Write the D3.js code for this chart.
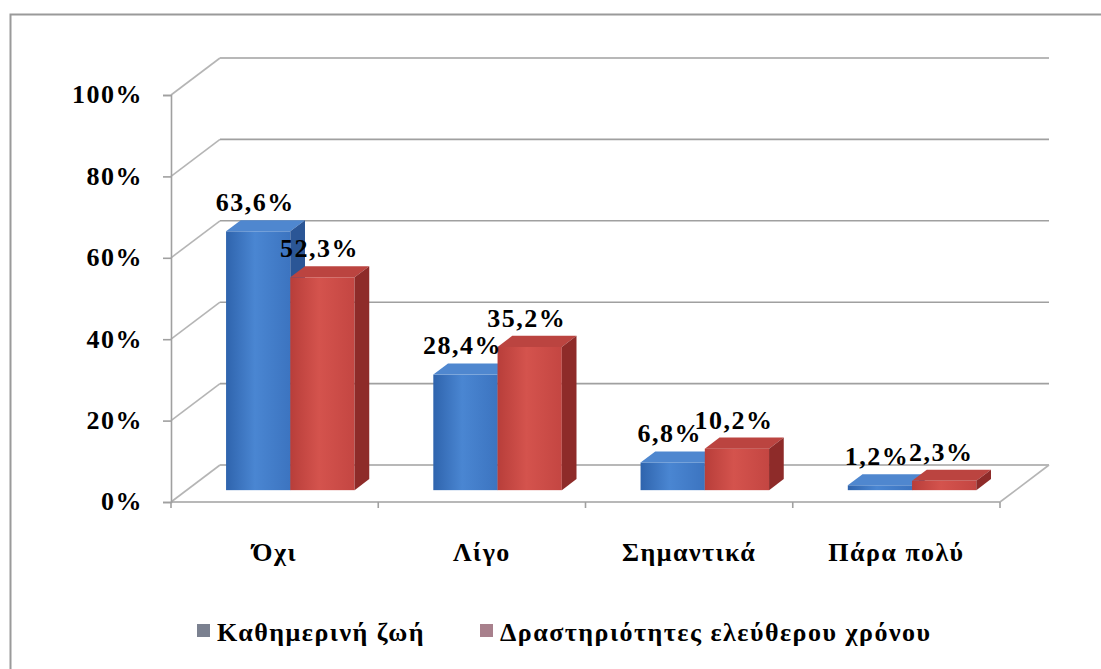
<!DOCTYPE html>
<html>
<head>
<meta charset="utf-8">
<script src="https://cdn.jsdelivr.net/npm/d3@7"></script>
<style>
  body { margin: 0; background: #fff; }
</style>
</head>
<body>
<div id="chart"></div>
<script>
// Data
const categories = ["Όχι", "Λίγο", "Σημαντικά", "Πάρα πολύ"];
const seriesNames = ["Καθημερινή ζωή", "Δραστηριότητες ελεύθερου χρόνου"];
const dailyLife = [63.6, 28.4, 6.8, 1.2];
const leisure = [52.3, 35.2, 10.2, 2.3];
const yTicks = [0, 20, 40, 60, 80, 100];

const values = [dailyLife, leisure];
const fmt = v => d3.format(".1f")(v).replace(".", ",") + "%";
const FONT = "'Liberation Serif', 'Times New Roman', Times, 'DejaVu Serif', serif";

const width = 1101, height = 669;

const svg = d3.select("#chart")
    .append("svg")
    .attr("width", width)
    .attr("height", height)
    .style("font-family", FONT)
    .style("font-weight", "bold")
    .style("letter-spacing", "1.5px");

// outer frame (runs off the right and bottom of the picture)
svg.append("rect")
    .attr("x", 10.5).attr("y", 14.5)
    .attr("width", 1200).attr("height", 800)
    .attr("fill", "none")
    .attr("stroke", "#9a9a9a")
    .attr("stroke-width", 2);

// Scales on the front plane of the 3D box
const x0 = d3.scaleBand()
    .domain(categories)
    .range([171, 1000])
    .paddingInner(0.38)
    .paddingOuter(0.19);
const x1 = d3.scaleBand()
    .domain([0, 1])
    .range([0, x0.bandwidth()]);
const y = d3.scaleLinear()
    .domain([0, 100])
    .range([502, 95]);

// depth of the floor, front edge -> back wall
const dep = {dx: 49, dy: -37};
const barFront = 0.32, barBack = 0.62;
const xLeft = x0.range()[0], xRight = x0.range()[1];

// Gradients
const defs = svg.append("defs");
function grad(id, stops) {
    const g = defs.append("linearGradient").attr("id", id)
        .attr("x1", "0%").attr("x2", "100%").attr("y1", "0%").attr("y2", "0%");
    stops.forEach(s => g.append("stop").attr("offset", s[0]).attr("stop-color", s[1]));
}
grad("blueFront", [["0%", "#2f64ad"], ["45%", "#4a86d2"], ["100%", "#3c74c0"]]);
grad("redFront", [["0%", "#b83e3a"], ["45%", "#d4534d"], ["100%", "#c44642"]]);
const colors = [
    {front: "url(#blueFront)", top: "#4f87cf", side: "#2b5696", legend: "#7b8190"},
    {front: "url(#redFront)", top: "#bb4440", side: "#8e2b29", legend: "#a8808c"}
];

// Back wall gridlines and side wall diagonals
const grid = svg.append("g")
    .attr("stroke", "#a0a0a0")
    .attr("stroke-width", 1.6)
    .attr("fill", "none");

grid.selectAll(".back")
    .data(yTicks)
    .join("line")
    .attr("x1", xLeft + dep.dx)
    .attr("x2", xRight + dep.dx)
    .attr("y1", d => y(d) + dep.dy)
    .attr("y2", d => y(d) + dep.dy);

grid.selectAll(".diag")
    .data(yTicks)
    .join("line")
    .attr("stroke", "#b5b5b5")
    .attr("x1", xLeft)
    .attr("x2", xLeft + dep.dx)
    .attr("y1", d => y(d))
    .attr("y2", d => y(d) + dep.dy);

// floor: front edge and right edge
grid.append("line")
    .attr("x1", xLeft).attr("x2", xRight)
    .attr("y1", y(0)).attr("y2", y(0));
grid.append("line")
    .attr("stroke", "#b5b5b5")
    .attr("x1", xRight).attr("x2", xRight + dep.dx)
    .attr("y1", y(0)).attr("y2", y(0) + dep.dy);

// category ticks under the floor
const step = x0.step();
grid.selectAll(".ctick")
    .data(d3.range(categories.length + 1))
    .join("line")
    .attr("x1", d => xLeft + d * step)
    .attr("x2", d => xLeft + d * step)
    .attr("y1", y(0))
    .attr("y2", y(0) + 6);

// Y axis on the front plane
const yAxis = svg.append("g")
    .attr("transform", `translate(${xLeft},0)`)
    .call(d3.axisLeft(y).tickValues(yTicks).tickSize(8).tickPadding(20).tickFormat(d => d + "%"));
yAxis.attr("font-family", null).attr("font-size", null);
yAxis.select(".domain").attr("stroke", "#a0a0a0").attr("stroke-width", 1.6);
yAxis.selectAll(".tick line").attr("stroke", "#a0a0a0").attr("stroke-width", 1.6);
yAxis.selectAll(".tick text")
    .style("font-family", FONT)
    .style("font-size", "26px")
    .attr("fill", "#000")
    .attr("dy", "0.3em");

// Bars
const bars = svg.append("g");
categories.forEach((cat, i) => {
    values.forEach((ser, s) => {
        const v = ser[i];
        const w = x1.bandwidth();
        const xl = x0(cat) + x1(s) + barFront * dep.dx;
        const xr = xl + w;
        const yb = y(0) + barFront * dep.dy;
        const yt = y(v) + barFront * dep.dy;
        const bdx = (barBack - barFront) * dep.dx;
        const bdy = (barBack - barFront) * dep.dy;
        const c = colors[s];

        bars.append("rect")
            .attr("x", xl).attr("y", yt)
            .attr("width", w).attr("height", yb - yt)
            .attr("fill", c.front);
        bars.append("polygon")
            .attr("points", [[xl, yt], [xr, yt], [xr + bdx, yt + bdy], [xl + bdx, yt + bdy]].join(" "))
            .attr("fill", c.top);
        bars.append("polygon")
            .attr("points", [[xr, yt], [xr + bdx, yt + bdy], [xr + bdx, yb + bdy], [xr, yb]].join(" "))
            .attr("fill", c.side);
    });
});

// Data labels (drawn after all bars)
const labels = svg.append("g").style("font-size", "26px").attr("text-anchor", "middle");
categories.forEach((cat, i) => {
    values.forEach((ser, s) => {
        const v = ser[i];
        const xl = x0(cat) + x1(s) + barFront * dep.dx;
        const yt = y(v) + barFront * dep.dy;
        const bdy = (barBack - barFront) * dep.dy;
        labels.append("text")
            .attr("x", xl + x1.bandwidth() / 2 - 3)
            .attr("y", yt + bdy - 9)
            .text(fmt(v));
    });
});

// Category labels
svg.append("g")
    .style("font-size", "26px")
    .attr("text-anchor", "middle")
    .selectAll("text")
    .data(categories)
    .join("text")
    .attr("x", d => x0(d) + x0.bandwidth() / 2)
    .attr("y", 561)
    .text(d => d);

// Legend
const legendX = [197, 480];
const legend = svg.append("g").style("font-size", "26px");
seriesNames.forEach((name, s) => {
    legend.append("rect")
        .attr("x", legendX[s]).attr("y", 624)
        .attr("width", 13).attr("height", 13)
        .attr("fill", colors[s].legend);
    legend.append("text")
        .attr("x", legendX[s] + 20)
        .attr("y", 641)
        .text(name);
});
</script>
</body>
</html>
